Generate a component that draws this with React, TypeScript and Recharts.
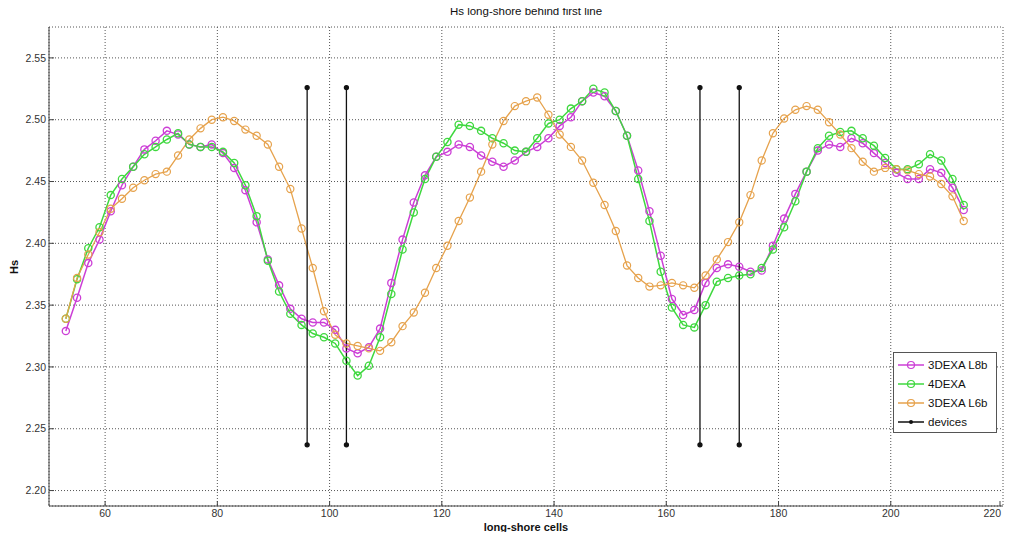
import { LineChart, Line, XAxis, YAxis, CartesianGrid, Legend } from 'recharts'

// long-shore cell index of every sample
const cells = [
  53, 55, 57, 59, 61, 63, 65, 67, 69, 71, 73, 75, 77, 79, 81, 83, 85, 87, 89, 91,
  93, 95, 97, 99, 101, 103, 105, 107, 109, 111, 113, 115, 117, 119, 121, 123, 125, 127, 129, 131,
  133, 135, 137, 139, 141, 143, 145, 147, 149, 151, 153, 155, 157, 159, 161, 163, 165, 167, 169, 171,
  173, 175, 177, 179, 181, 183, 185, 187, 189, 191, 193, 195, 197, 199, 201, 203, 205, 207, 209, 211,
  213,
]

// 3DEXA L8b
const hsL8b = [
  2.329, 2.356, 2.384, 2.403, 2.426, 2.447, 2.462, 2.476, 2.483, 2.491, 2.488, 2.48, 2.478, 2.48, 2.473, 2.461, 2.443, 2.417, 2.387, 2.366,
  2.347, 2.339, 2.336, 2.336, 2.33, 2.315, 2.311, 2.316, 2.331, 2.368, 2.403, 2.433, 2.455, 2.47, 2.474, 2.48, 2.478, 2.471, 2.466, 2.462,
  2.467, 2.474, 2.478, 2.485, 2.495, 2.502, 2.515, 2.522, 2.519, 2.507, 2.487, 2.459, 2.426, 2.39, 2.355, 2.342, 2.346, 2.368, 2.38, 2.383,
  2.381, 2.377, 2.378, 2.398, 2.42, 2.44, 2.458, 2.475, 2.48, 2.478, 2.485, 2.481, 2.473, 2.465, 2.457, 2.452, 2.452, 2.46, 2.457, 2.445,
  2.427,
]

// 4DEXA
const hs4dexa = [
  2.339, 2.371, 2.396, 2.413, 2.439, 2.452, 2.462, 2.472, 2.478, 2.484, 2.489, 2.48, 2.478, 2.478, 2.474, 2.465, 2.447, 2.422, 2.386, 2.361,
  2.343, 2.334, 2.327, 2.324, 2.319, 2.305, 2.293, 2.301, 2.324, 2.359, 2.395, 2.425, 2.452, 2.47, 2.482, 2.496, 2.495, 2.491, 2.485, 2.481,
  2.475, 2.474, 2.485, 2.497, 2.5, 2.509, 2.515, 2.525, 2.522, 2.507, 2.487, 2.452, 2.418, 2.377, 2.348, 2.334, 2.332, 2.35, 2.369, 2.372,
  2.374, 2.375, 2.38, 2.395, 2.413, 2.434, 2.458, 2.477, 2.487, 2.49, 2.491, 2.485, 2.479, 2.469, 2.46, 2.46, 2.464, 2.472, 2.467, 2.452,
  2.431,
]

// 3DEXA L6b
const hsL6b = [
  2.339, 2.372, 2.391, 2.409, 2.428, 2.436, 2.445, 2.451, 2.456, 2.458, 2.471, 2.484, 2.493, 2.5, 2.502, 2.499, 2.492, 2.487, 2.48, 2.462,
  2.444, 2.412, 2.38, 2.345, 2.326, 2.319, 2.317, 2.315, 2.313, 2.32, 2.333, 2.344, 2.36, 2.38, 2.398, 2.418, 2.437, 2.458, 2.48, 2.499,
  2.511, 2.515, 2.518, 2.504, 2.488, 2.478, 2.467, 2.449, 2.431, 2.41, 2.382, 2.372, 2.365, 2.366, 2.368, 2.366, 2.364, 2.374, 2.387, 2.401,
  2.417, 2.439, 2.467, 2.489, 2.501, 2.508, 2.511, 2.508, 2.498, 2.488, 2.477, 2.466, 2.458, 2.461, 2.46, 2.459, 2.456, 2.454, 2.448, 2.438,
  2.418,
]

// devices: vertical markers
const deviceCells = [96, 103, 166, 173]
const deviceBottom = 2.237
const deviceTop = 2.526

const xTicks = [60, 80, 100, 120, 140, 160, 180, 200, 220]
const yTicks = [2.2, 2.25, 2.3, 2.35, 2.4, 2.45, 2.5, 2.55]

const C_L8B = '#cc3fd6'
const C_4DEXA = '#3fd83f'
const C_L6B = '#e6a24c'
const AXIS = '#444'
const FONT = '"Liberation Sans", Arial, sans-serif'

const data = cells.map((cell, i) => ({
  cell,
  l8b: hsL8b[i],
  dexa4: hs4dexa[i],
  l6b: hsL6b[i],
}))

const devices = deviceCells.map((cell) => [
  { cell, hs: deviceBottom },
  { cell, hs: deviceTop },
])

const legendItems = [
  { name: '3DEXA L8b', color: C_L8B, marker: 'circle' },
  { name: '4DEXA', color: C_4DEXA, marker: 'circle' },
  { name: '3DEXA L6b', color: C_L6B, marker: 'circle' },
  { name: 'devices', color: '#111', marker: 'dot' },
]

const lastX = xTicks[xTicks.length - 1]

const BottomTick = (props: any) => {
  const { x, y, payload } = props
  // last label sits on the right border; keep it inside the page
  const isLast = payload.value === lastX
  return (
    <g>
      <line x1={x} x2={x} y1={y - 3} y2={y - 8} stroke={AXIS} />
      <text
        x={isLast ? x + 1 : x}
        y={y}
        dy="0.8em"
        textAnchor={isLast ? 'end' : 'middle'}
        fontSize={10.5}
        fill="#333"
        fontFamily={FONT}
      >
        {payload.value}
      </text>
    </g>
  )
}

const LeftTick = (props: any) => {
  const { x, y, payload } = props
  return (
    <g>
      <line x1={x + 3} x2={x + 8} y1={y} y2={y} stroke={AXIS} />
      <text x={x} y={y} dy="0.35em" textAnchor="end" fontSize={10.5} fill="#333" fontFamily={FONT}>
        {payload.value.toFixed(2)}
      </text>
    </g>
  )
}

const TopTick = (props: any) => {
  const { x, y } = props
  return <line x1={x} x2={x} y1={y} y2={y + 5} stroke={AXIS} />
}

const RightTick = (props: any) => {
  const { x, y } = props
  return <line x1={x} x2={x - 5} y1={y} y2={y} stroke={AXIS} />
}

const LegendBox = () => (
  <div
    style={{
      border: '1px solid #555',
      background: '#fff',
      boxSizing: 'border-box',
      width: 104,
      height: 81,
      paddingTop: 2,
      fontFamily: FONT,
      fontSize: 11.5,
      color: '#111',
    }}
  >
    {legendItems.map((it) => (
      <div key={it.name} style={{ display: 'flex', alignItems: 'center', height: 19.2 }}>
        <svg width={34} height={12} style={{ flex: 'none' }}>
          <line x1={4} x2={30} y1={6} y2={6} stroke={it.color} strokeWidth={1.5} />
          {it.marker === 'circle' ? (
            <circle cx={17} cy={6} r={3.5} fill="none" stroke={it.color} strokeWidth={1.2} />
          ) : (
            <circle cx={17} cy={6} r={2} fill={it.color} />
          )}
        </svg>
        <span>{it.name}</span>
      </div>
    ))}
  </div>
)

export default function App() {
  return (
    <div
      style={{
        position: 'relative',
        margin: -8,
        width: 1012,
        height: 540,
        overflow: 'hidden',
        fontFamily: FONT,
        background: '#fff',
      }}
    >
      <style>{`html, body { overflow: hidden; }`}</style>
      <div
        style={{
          position: 'absolute',
          left: 0,
          width: 1052,
          top: 5,
          textAlign: 'center',
          fontSize: 11.5,
          color: '#111',
        }}
      >
        Hs long-shore behind first line
      </div>
      <div
        style={{
          position: 'absolute',
          left: 526 - 100,
          width: 200,
          top: 521,
          textAlign: 'center',
          fontSize: 11,
          fontWeight: 'bold',
          color: '#111',
        }}
      >
        long-shore cells
      </div>
      <div
        style={{
          position: 'absolute',
          left: 14 - 20,
          top: 268 - 7,
          width: 40,
          textAlign: 'center',
          fontSize: 11,
          fontWeight: 'bold',
          color: '#111',
          transform: 'rotate(-90deg)',
        }}
      >
        Hs
      </div>
      <LineChart width={1012} height={540} data={data} margin={{ top: 27, right: 9, bottom: 4, left: 14 }}>
        <CartesianGrid stroke="#555" strokeDasharray="1 2" />
        <XAxis
          dataKey="cell"
          type="number"
          domain={[50, 220]}
          ticks={xTicks}
          height={30}
          stroke={AXIS}
          tickSize={0}
          tickMargin={3}
          tick={<BottomTick />}
          allowDataOverflow
        />
        <XAxis
          xAxisId="top"
          orientation="top"
          type="number"
          domain={[50, 220]}
          ticks={xTicks}
          height={0}
          stroke={AXIS}
          tickSize={0}
          tickMargin={0}
          tick={<TopTick />}
          allowDataOverflow
        />
        <YAxis
          type="number"
          domain={[2.1875, 2.575]}
          ticks={yTicks}
          width={35}
          stroke={AXIS}
          tickSize={0}
          tickMargin={3}
          tick={<LeftTick />}
          allowDataOverflow
        />
        <YAxis
          yAxisId="right"
          orientation="right"
          type="number"
          domain={[2.1875, 2.575]}
          ticks={yTicks}
          width={0}
          stroke={AXIS}
          tickSize={0}
          tickMargin={0}
          tick={<RightTick />}
          allowDataOverflow
        />
        <Line
          dataKey="l8b"
          name="3DEXA L8b"
          stroke={C_L8B}
          strokeWidth={1.5}
          dot={{ r: 3.6, fill: 'none', stroke: C_L8B, strokeWidth: 1.3 }}
          isAnimationActive={false}
        />
        <Line
          dataKey="dexa4"
          name="4DEXA"
          stroke={C_4DEXA}
          strokeWidth={1.5}
          dot={{ r: 3.6, fill: 'none', stroke: C_4DEXA, strokeWidth: 1.3 }}
          isAnimationActive={false}
        />
        <Line
          dataKey="l6b"
          name="3DEXA L6b"
          stroke={C_L6B}
          strokeWidth={1.3}
          dot={{ r: 3.6, fill: 'none', stroke: C_L6B, strokeWidth: 1.2 }}
          isAnimationActive={false}
        />
        {devices.map((d, i) => (
          <Line
            key={i}
            data={d}
            dataKey="hs"
            name="devices"
            stroke="#111"
            strokeWidth={1.3}
            dot={{ r: 2, fill: '#111', stroke: '#111' }}
            legendType="none"
            isAnimationActive={false}
          />
        ))}
        <Legend
          layout="vertical"
          align="center"
          verticalAlign="middle"
          content={() => <LegendBox />}
          wrapperStyle={{ left: 893, top: 352, width: 104, height: 81 }}
        />
      </LineChart>
    </div>
  )
}
